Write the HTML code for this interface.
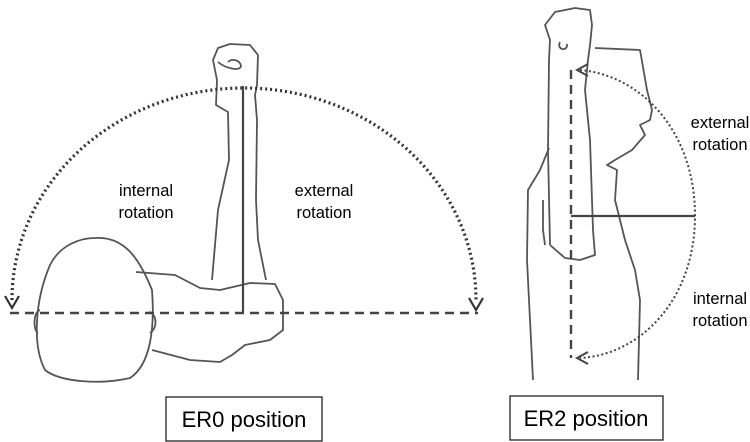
<!DOCTYPE html>
<html><head><style>body{margin:0;background:#fff}svg{display:block}</style></head><body>
<svg width="750" height="442" viewBox="0 0 750 442" xmlns="http://www.w3.org/2000/svg" font-family="Liberation Sans, sans-serif">
<g fill="none" stroke="#555" stroke-width="1.8" stroke-linejoin="round">
<path d="M217,80 L213,60 L218,48 L230,44 L250,45 L258,55 L257,85 L255,95 L257,120 L256,200 L258,240 L266,280"/>
<path d="M217,80 L216,105 L228,112 L229,160 L218,210 L212,280"/>
<path d="M218,62 C225,68 240,72 241,66 C240,60 232,58 228,62"/>
<path d="M136,272 L175,275 L200,288 L220,290 L250,283 L275,284 L283,300 L283,330 L270,340 L245,345 L232,355 L220,362 L190,360 L152,350"/>
<path d="M95,238 C125,236 140,260 152,290 C155,330 150,365 130,378 C100,385 60,382 45,370 C32,345 35,300 50,265 C60,245 80,238 95,238 Z"/>
<path d="M40,310 C33,312 33,330 38,333"/>
<path d="M149,312 C157,314 158,328 150,333"/>
<path d="M550,245 L548,150 L549,60 L550,40 L545,25 L555,12 L575,8 L590,10 L592,25 L590,45 L588,60 L585,90 L590,140 L593,230 L595,255 L580,260 L565,258 L550,245"/>
<path d="M560,42 C556,50 568,52 567,44"/>
<path d="M595,48 L640,50 L647,90 L652,110 L650,120 L640,125 L645,135 L632,150 L615,160 L607,165 L617,170 L615,200 L625,240 L635,270 L640,300 L638,380"/>
<path d="M549,148 L540,170 L528,190 L527,260 L530,320 L533,380"/>
<path d="M543,200 L543,230 L545,245"/>
</g>
<path d="M12,300 A232,212 0 0 1 476,300" fill="none" stroke="#333" stroke-width="3.2" stroke-dasharray="2,3"/>
<path d="M5,296 L12,308 L19,296 M469,298 L476,310 L483,298" fill="none" stroke="#333" stroke-width="2.2"/>
<line x1="10" y1="313" x2="478" y2="313" stroke="#444" stroke-width="2.6" stroke-dasharray="9,6"/>
<line x1="243" y1="86" x2="243" y2="313" stroke="#444" stroke-width="2.2"/>
<line x1="571" y1="70" x2="571" y2="358" stroke="#444" stroke-width="2.4" stroke-dasharray="9,6"/>
<line x1="571" y1="216" x2="695" y2="216" stroke="#444" stroke-width="2.2"/>
<path d="M580,70 C640,75 695,130 695,216 C695,300 640,355 580,358" fill="none" stroke="#444" stroke-width="2" stroke-dasharray="2,2.5"/>
<path d="M588,64 L577,70 L588,76 M588,352 L577,358 L588,364" fill="none" stroke="#444" stroke-width="2"/>
<g font-size="16.5" fill="#000" text-anchor="middle">
<text x="146" y="196">internal</text><text x="146" y="218">rotation</text>
<text x="324" y="196">external</text><text x="324" y="218">rotation</text>
<text x="720" y="128">external</text><text x="720" y="150">rotation</text>
<text x="720" y="304">internal</text><text x="720" y="326">rotation</text>
</g>
<rect x="166" y="397" width="156" height="44" fill="none" stroke="#222" stroke-width="1.3"/>
<text x="244" y="427" font-size="22" text-anchor="middle" fill="#000">ER0 position</text>
<rect x="510" y="396" width="153" height="44" fill="none" stroke="#222" stroke-width="1.3"/>
<text x="586" y="426" font-size="22" text-anchor="middle" fill="#000">ER2 position</text>
</svg>
</body></html>
